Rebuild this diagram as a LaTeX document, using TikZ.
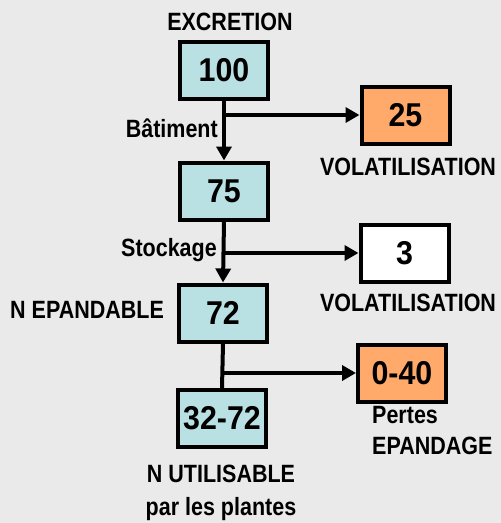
\documentclass[tikz,border=0pt]{standalone}
\usepackage{fontspec}
\setmainfont{Liberation Sans}[FakeStretch=0.86]
\newfontfamily\chiffres{Liberation Sans}[FakeStretch=0.92]
\usetikzlibrary{positioning, arrows.meta}

\definecolor{fondgris}{HTML}{EAEAEA}
\definecolor{bleuclair}{HTML}{B9E0E2}
\definecolor{orangeclair}{HTML}{FFA96B}

\begin{document}
\begin{tikzpicture}[
    x=1pt, y=-1pt,
    boite/.style={draw, line width=4pt, minimum width=88pt, minimum height=57pt, inner sep=0pt,
      font=\chiffres\fontsize{33}{33}\selectfont\bfseries},
    etiq/.style={font=\fontsize{25}{31}\selectfont\bfseries, inner sep=0pt},
    fleche/.style={line width=4pt, -{Triangle[length=14pt,width=15pt]}},
    trait/.style={line width=4pt}
  ]

  \fill[fondgris] (0,0) rectangle (501,523);
  \useasboundingbox (0,0) rectangle (501,523);

  % colonne de gauche
  \node[boite, fill=bleuclair] (b100) at (224,70.5) {100};
  \node[boite, fill=bleuclair] (b75) at (224,191) {75};
  \node[boite, fill=bleuclair] (b72) at (223,313) {72};
  \node[boite, fill=bleuclair] (b3272) at (222,418.5) {32-72};

  % pertes a droite
  \node[boite, fill=orangeclair] (b25) at (405.5,115) {25};
  \node[boite, fill=white] (b3) at (404.5,253) {3};
  \node[boite, fill=orangeclair] (b040) at (402,373) {0-40};

  \node[etiq] (excr) at (230,22) {EXCRETION};
  \node[etiq, anchor=east] (bat) at (218,128) {Bâtiment};
  \node[etiq] (vol1) at (408,167) {VOLATILISATION};
  \node[etiq, anchor=east] (stock) at (217,250) {Stockage};
  \node[etiq] (vol2) at (408,303) {VOLATILISATION};
  \node[etiq, anchor=west] (nep) at (10,310) {N EPANDABLE};
  \node[etiq, anchor=north west, align=left] (pertes) at (372,406) {Pertes\\EPANDAGE};
  \node[etiq, anchor=north, align=center] (nutil) at (221,465) {N UTILISABLE\\[2pt]par les plantes};

  \coordinate (j1) at (b100.south |- b25.west);
  \coordinate (j2) at (b75.south |- b3.west);
  \coordinate (j3) at (b72.south |- b040.west);

  \draw[fleche] (b100.south) -- (b75.north);
  \draw[fleche] (j1) -- (b25.west);

  \draw[fleche] (b75.south) -- (b72.north);
  \draw[fleche] (j2) -- (b3.west);

  \draw[trait] (b72.south) -- (b3272.north);
  \draw[fleche] (j3) -- (b040.west);

\end{tikzpicture}
\end{document}
